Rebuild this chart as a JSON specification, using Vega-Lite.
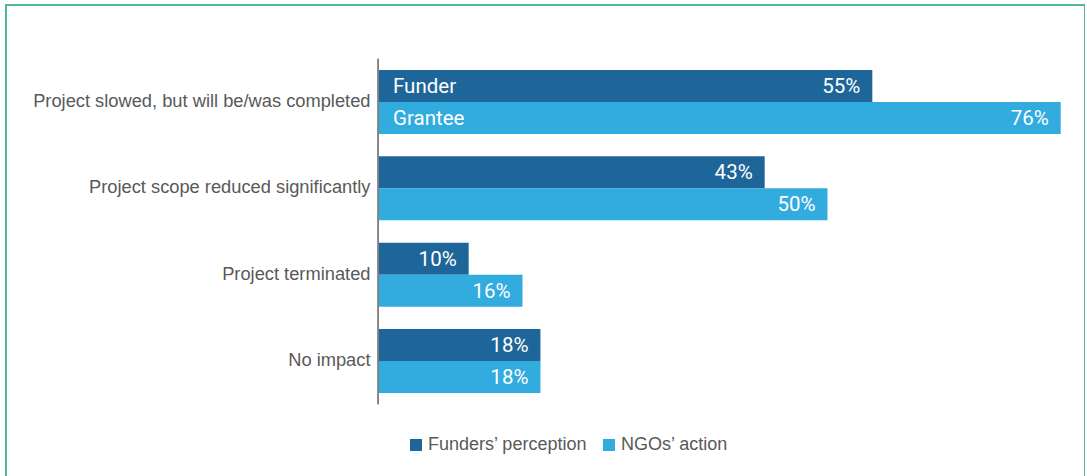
{
  "$schema": "https://vega.github.io/schema/vega-lite/v6.json",
  "width": 1079,
  "height": 490,
  "autosize": {"type": "none"},
  "padding": {"left": 6, "top": 5, "right": 0, "bottom": 0},
  "background": "white",
  "config": {
    "view": {"stroke": "#4bb89c", "strokeWidth": 2},
    "font": "Liberation Sans"
  },
  "data": {
    "values": [
      {"cat": "Project slowed, but will be/was completed", "series": "Funders’ perception", "value": 55, "label": "55%", "tag": "Funder"},
      {"cat": "Project slowed, but will be/was completed", "series": "NGOs’ action", "value": 76, "label": "76%", "tag": "Grantee"},
      {"cat": "Project scope reduced significantly", "series": "Funders’ perception", "value": 43, "label": "43%", "tag": null},
      {"cat": "Project scope reduced significantly", "series": "NGOs’ action", "value": 50, "label": "50%", "tag": null},
      {"cat": "Project terminated", "series": "Funders’ perception", "value": 10, "label": "10%", "tag": null},
      {"cat": "Project terminated", "series": "NGOs’ action", "value": 16, "label": "16%", "tag": null},
      {"cat": "No impact", "series": "Funders’ perception", "value": 18, "label": "18%", "tag": null},
      {"cat": "No impact", "series": "NGOs’ action", "value": 18, "label": "18%", "tag": null}
    ]
  },
  "encoding": {
    "y": {
      "field": "cat",
      "type": "nominal",
      "sort": null,
      "scale": {"paddingInner": 0.2587, "paddingOuter": 0.967, "align": 0.389},
      "axis": {
        "title": null,
        "domain": false,
        "ticks": false,
        "tickSize": 0,
        "offset": -373,
        "labelPadding": 9,
        "labelFontSize": 18.3,
        "labelFont": "Liberation Sans",
        "labelColor": "#595959",
        "labelLimit": 500
      }
    }
  },
  "layer": [
    {
      "mark": {"type": "bar", "color": "#808080", "height": {"band": 1.35}},
      "encoding": {
        "x": {"datum": -0.18, "type": "quantitative", "scale": {"domain": [-41.58, 78.71], "nice": false, "zero": false}, "axis": null},
        "x2": {"datum": 0}
      }
    },
    {
      "mark": {"type": "bar"},
      "encoding": {
        "x": {"field": "value", "type": "quantitative", "stack": null},
        "yOffset": {"field": "series", "type": "nominal", "sort": null, "scale": {"paddingInner": 0, "paddingOuter": 0}},
        "color": {
          "field": "series",
          "type": "nominal",
          "scale": {"domain": ["Funders’ perception", "NGOs’ action"], "range": ["#1e6699", "#32abdf"]},
          "legend": {
            "title": null,
            "orient": "none",
            "direction": "horizontal",
            "legendX": 401,
            "legendY": 431,
            "symbolType": "square",
            "symbolSize": 144,
            "symbolStrokeWidth": 0,
            "symbolOpacity": 1,
            "labelFontSize": 18,
            "labelFont": "Liberation Sans",
            "labelColor": "#595959",
            "labelOffset": 3,
            "columnPadding": 12,
            "labelLimit": 300
          }
        }
      }
    },
    {
      "mark": {"type": "text", "align": "right", "baseline": "middle", "dx": -12, "dy": 1, "color": "white", "font": "Roboto", "fontSize": 20.5},
      "encoding": {
        "x": {"field": "value", "type": "quantitative"},
        "yOffset": {"field": "series", "type": "nominal", "sort": null},
        "text": {"field": "label"}
      }
    },
    {
      "transform": [{"filter": "datum.tag != null"}],
      "mark": {"type": "text", "align": "left", "baseline": "middle", "dx": 14, "dy": 1, "color": "white", "font": "Roboto", "fontSize": 20.5},
      "encoding": {
        "x": {"datum": 0, "type": "quantitative"},
        "yOffset": {"field": "series", "type": "nominal", "sort": null},
        "text": {"field": "tag"}
      }
    }
  ]
}
